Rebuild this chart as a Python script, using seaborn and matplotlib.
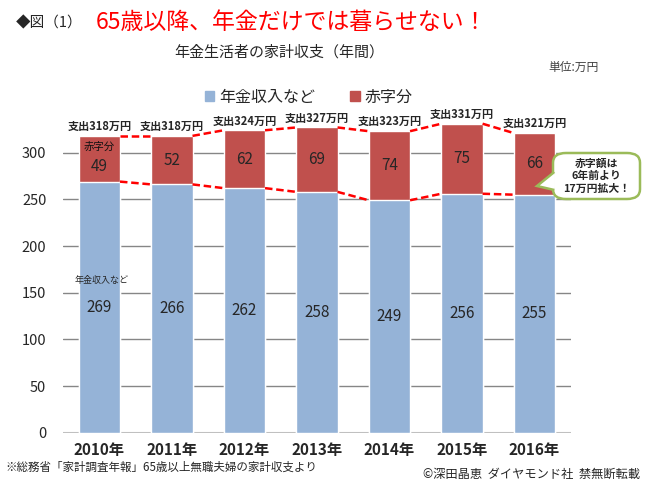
import numpy as np
import matplotlib
matplotlib.use("Agg")
import matplotlib.pyplot as plt
import seaborn as sns
from matplotlib.patches import Patch, FancyBboxPatch, Polygon

sns.set_style("white")
plt.rcParams['font.family'] = ['Noto Sans CJK JP', 'DejaVu Sans']

# data (万円)
years = ["2010年", "2011年", "2012年", "2013年", "2014年", "2015年", "2016年"]
income = [269, 266, 262, 258, 249, 256, 255]
deficit = [49, 52, 62, 69, 74, 75, 66]
spend = [318, 318, 324, 327, 323, 331, 321]

blue = "#95b3d7"
red = "#c0504d"
w = 0.57

fig = plt.figure(figsize=(6.5, 4.88), dpi=100)
ax = fig.add_axes([0.097, 0.1133, 0.781, 0.6695])

# stacked bars: total (red) then income (blue) on top
sns.barplot(x=years, y=spend, color=red, width=w, saturation=1, ax=ax, zorder=2)
sns.barplot(x=years, y=income, color=blue, width=w, saturation=1, ax=ax, zorder=3)

# dashed connectors
for i in range(len(years) - 1):
    for vals in (spend, income):
        ax.plot([i + w / 2, i + 1 - w / 2], [vals[i], vals[i + 1]],
                color="#ff0000", ls=(0, (3, 1.5)), lw=1.8, zorder=4)

# labels
for i in range(len(years)):
    ax.text(i, spend[i] + 3, f"支出{spend[i]}万円", ha="center", va="bottom",
            fontsize=8, fontweight="bold", zorder=5)
    if i == 0:
        ax.text(i, 280, str(deficit[i]), ha="center", va="baseline", fontsize=11, zorder=5)
    else:
        ax.text(i, income[i] + deficit[i] / 2, str(deficit[i]), ha="center", va="center",
                fontsize=11, zorder=5)
    ax.text(i, income[i] / 2, str(income[i]), ha="center", va="center",
            fontsize=11, zorder=5)
ax.text(0, 302.5, "赤字分", ha="center", va="baseline", fontsize=7.5, color="#111111", zorder=5)
ax.text(0.03, 163, "年金収入など", ha="center", va="center", fontsize=6.5, zorder=5)

ax.set_xlim(-0.5, 6.5)
ax.set_ylim(0, 350)
ax.set_yticks(range(0, 301, 50))
ax.yaxis.grid(True, color="#868686", lw=1)
ax.set_axisbelow(True)
for s in ax.spines.values():
    s.set_visible(False)
ax.axhline(0, color="#c0c0c0", lw=1.5, zorder=1)
ax.tick_params(axis="y", length=0, pad=12, labelsize=10.5)
ax.tick_params(axis="x", length=0, pad=7)
for lab in ax.get_xticklabels():
    lab.set_fontsize(11)
    lab.set_fontweight("bold")
ax.set_xlabel("")
ax.set_ylabel("")

# legend
handles = [Patch(color=blue, label="年金収入など"), Patch(color=red, label="赤字分")]
fig.legend(handles=handles, loc="center", bbox_to_anchor=(0.475, 0.801), ncol=2,
           frameon=False, fontsize=11.5, handlelength=0.6, handleheight=0.6,
           handletextpad=0.3, columnspacing=2.2)

# titles
fig.text(0.025, 0.953, "◆図（1）", fontsize=10.5, va="center", ha="left")
fig.text(0.148, 0.953, "65歳以降、年金だけでは暮らせない！", fontsize=16.5,
         color="#ff0000", va="center", ha="left")
fig.text(0.43, 0.893, "年金生活者の家計収支（年間）", fontsize=10.8, va="center", ha="center")
fig.text(0.843, 0.862, "単位:万円", fontsize=8.5, va="center", ha="left", color="#404040")

# callout
green = "#9bbb59"
bx0, by0, bx1, by1 = 553 / 650, 1 - 199 / 488, 640 / 650, 1 - 153 / 488
box = FancyBboxPatch((bx0, by0), bx1 - bx0, by1 - by0,
                     boxstyle="round,pad=0,rounding_size=0.02",
                     transform=fig.transFigure, fc="white", ec=green, lw=1.8, zorder=6)
fig.patches.append(box)
tip = Polygon([(bx0 + 0.002, 1 - 172 / 488), (537 / 650, 1 - 186 / 488), (bx0 + 0.002, 1 - 190 / 488)],
              closed=False, transform=fig.transFigure, fc="white", ec=green, lw=1.8, zorder=7)
fig.patches.append(tip)
fig.patches.append(Polygon([(bx0 + 0.003, 1 - 173 / 488), (bx0 - 0.004, 1 - 182 / 488), (bx0 + 0.003, 1 - 189 / 488)],
                           transform=fig.transFigure, fc="white", ec="none", zorder=8))
fig.text((bx0 + bx1) / 2, (by0 + by1) / 2, "赤字額は\n6年前より\n17万円拡大！", ha="center", va="center",
         fontsize=7.8, fontweight="bold", linespacing=1.3, zorder=9)

# footnotes
fig.text(0.008, 0.043, "※総務省「家計調査年報」65歳以上無職夫婦の家計収支より", fontsize=8.3,
         va="center", ha="left")
fig.text(0.985, 0.027, "©深田晶恵  ダイヤモンド社  禁無断転載", fontsize=8.8,
         va="center", ha="right")

fig.savefig("out.png", dpi=100)
